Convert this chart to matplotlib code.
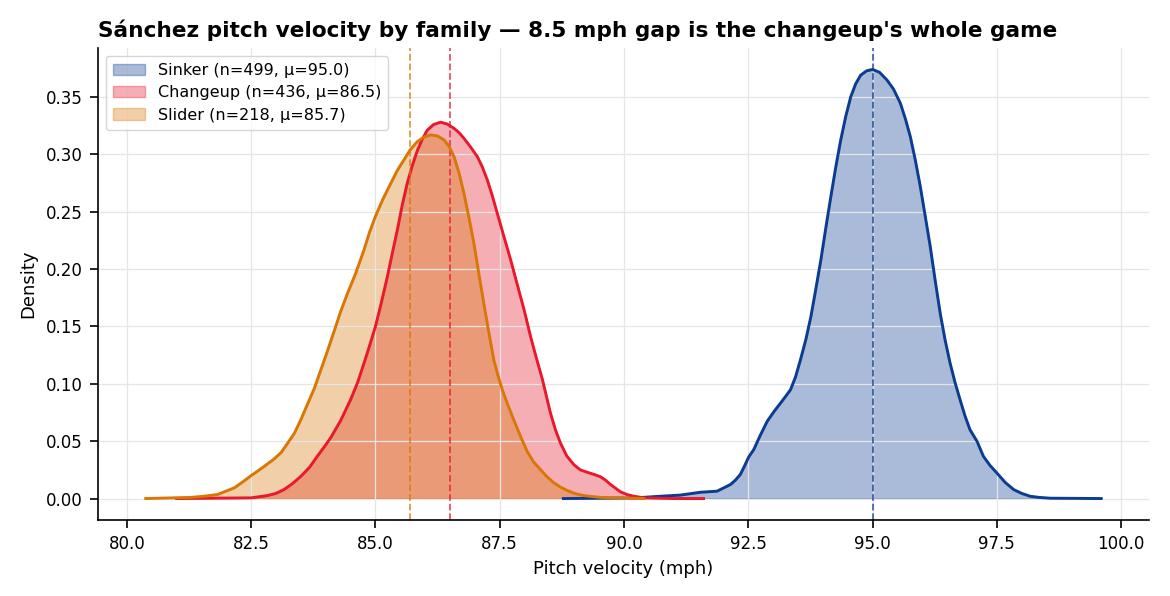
import matplotlib
matplotlib.use("Agg")
import matplotlib.pyplot as plt

# ---- data ----
families = ["Sinker", "Changeup", "Slider"]
counts = [499, 436, 218]
means = [95.0, 86.5, 85.7]
colors = ["#0b3c91", "#e8192c", "#d97706"]

sinker_x = [88.78, 90.2, 90.73, 91.13, 91.54, 91.87, 92.14, 92.24, 92.34, 92.42,
            92.51, 92.61, 92.74, 92.88, 93.02, 93.15, 93.25, 93.35, 93.45, 93.55,
            93.66, 93.76, 93.86, 93.96, 94.06, 94.16, 94.26, 94.36, 94.46, 94.56,
            94.66, 94.76, 94.88, 95.0, 95.14, 95.29, 95.42, 95.56, 95.66, 95.76,
            95.86, 95.96, 96.06, 96.16, 96.26, 96.36, 96.46, 96.56, 96.66, 96.76,
            96.86, 96.96, 97.1, 97.23, 97.36, 97.5, 97.67, 97.84, 98.0, 98.17,
            98.35, 98.57, 99.6]
sinker_y = [0.0, 0.0005, 0.002, 0.003, 0.0055, 0.0064, 0.0122, 0.016, 0.021, 0.028,
            0.0363, 0.0427, 0.055, 0.0673, 0.076, 0.0833, 0.089, 0.0949, 0.106, 0.121,
            0.139, 0.1587, 0.183, 0.208, 0.236, 0.263, 0.289, 0.3126, 0.333, 0.350,
            0.3615, 0.369, 0.3728, 0.374, 0.3715, 0.3648, 0.357, 0.3445, 0.331, 0.3154,
            0.295, 0.272, 0.246, 0.2197, 0.190, 0.1617, 0.138, 0.118, 0.101, 0.0862,
            0.072, 0.060, 0.050, 0.0368, 0.029, 0.0223, 0.014, 0.0078, 0.0045, 0.002,
            0.001, 0.0003, 0.0]

changeup_x = [81.0, 82.5, 82.83, 83.0, 83.16, 83.33, 83.5, 83.67, 83.83, 83.97,
              84.1, 84.3, 84.5, 84.64, 84.77, 84.88, 85.0, 85.12, 85.24, 85.34,
              85.44, 85.54, 85.64, 85.74, 85.84, 85.94, 86.04, 86.17, 86.31, 86.44,
              86.58, 86.68, 86.78, 86.92, 87.05, 87.15, 87.25, 87.35, 87.45, 87.58,
              87.72, 87.85, 87.99, 88.12, 88.24, 88.36, 88.44, 88.52, 88.62, 88.72,
              88.85, 88.99, 89.12, 89.26, 89.4, 89.53, 89.63, 89.73, 89.83, 89.93,
              90.06, 90.2, 90.4, 91.0, 91.6]
changeup_y = [0.0, 0.0006, 0.0026, 0.0045, 0.0078, 0.013, 0.0194, 0.027, 0.0368, 0.045,
              0.053, 0.068, 0.0862, 0.101, 0.118, 0.133, 0.150, 0.171, 0.1935, 0.214,
              0.234, 0.256, 0.275, 0.290, 0.303, 0.313, 0.321, 0.326, 0.328, 0.3265,
              0.3227, 0.319, 0.314, 0.306, 0.298, 0.289, 0.2777, 0.264, 0.2487, 0.229,
              0.208, 0.187, 0.1645, 0.1413, 0.122, 0.1036, 0.089, 0.0746, 0.060, 0.0485,
              0.037, 0.0296, 0.025, 0.0229, 0.021, 0.0189, 0.016, 0.0122, 0.009, 0.0058,
              0.0035, 0.002, 0.0006, 0.0, 0.0]

slider_x = [80.38, 81.29, 81.55, 81.82, 82.16, 82.33, 82.5, 82.73, 82.96, 83.1,
            83.23, 83.37, 83.5, 83.63, 83.77, 83.9, 84.03, 84.17, 84.3, 84.43,
            84.6, 84.77, 84.88, 85.0, 85.15, 85.31, 85.44, 85.57, 85.7, 85.84,
            85.97, 86.11, 86.25, 86.38, 86.48, 86.58, 86.68, 86.78, 86.88, 86.98,
            87.08, 87.18, 87.28, 87.38, 87.46, 87.55, 87.66, 87.78, 87.92, 88.05,
            88.18, 88.32, 88.45, 88.59, 88.72, 88.86, 89.0, 89.19, 89.35, 89.53,
            89.9, 90.4]
slider_y = [0.0, 0.001, 0.002, 0.0035, 0.0093, 0.0145, 0.020, 0.027, 0.0345, 0.040,
            0.048, 0.057, 0.0688, 0.082, 0.096, 0.112, 0.128, 0.146, 0.163, 0.178,
            0.196, 0.2168, 0.232, 0.246, 0.261, 0.2749, 0.286, 0.295, 0.304, 0.311,
            0.315, 0.317, 0.316, 0.3126, 0.307, 0.298, 0.284, 0.266, 0.245, 0.2226,
            0.196, 0.170, 0.145, 0.121, 0.108, 0.095, 0.082, 0.0688, 0.054, 0.0412,
            0.032, 0.0252, 0.019, 0.0137, 0.010, 0.007, 0.0045, 0.0026, 0.0018, 0.001,
            0.0005, 0.0]

title = "Sánchez pitch velocity by family — 8.5 mph gap is the changeup's whole game"
xlabel = "Pitch velocity (mph)"
ylabel = "Density"

curves_x = [sinker_x, changeup_x, slider_x]
curves_y = [sinker_y, changeup_y, slider_y]

fig = plt.figure(figsize=(11.7, 5.96), dpi=100)
ax = fig.add_axes([98 / 1170, 1 - 520 / 596, (1149 - 98) / 1170, (520 - 48) / 596])

for name, n, mu, c, xs, ys in zip(families, counts, means, colors, curves_x, curves_y):
    ax.fill_between(xs, ys, color=c, alpha=0.35, label=f"{name} (n={n}, μ={mu:.1f})")
    ax.plot(xs, ys, color=c, lw=2.1, solid_joinstyle="round")
    ax.axvline(mu, color=c, ls="--", lw=1.3, alpha=0.75)

ax.grid(True, color="#e6e6e6", lw=0.9)
for s in ("top", "right"):
    ax.spines[s].set_visible(False)
for s in ("left", "bottom"):
    ax.spines[s].set_linewidth(1.2)
ax.tick_params(labelsize=12, length=5.5, width=1.2, pad=5.5)
ax.set_xlabel(xlabel, fontsize=13, labelpad=5)
ax.set_ylabel(ylabel, fontsize=13, labelpad=6)
ax.set_title(title, loc="left", fontsize=15.6, fontweight="bold", pad=8)
ax.legend(loc="upper left", fontsize=11.5, borderpad=0.45, labelspacing=0.45)

fig.savefig("out.png", dpi=100)
